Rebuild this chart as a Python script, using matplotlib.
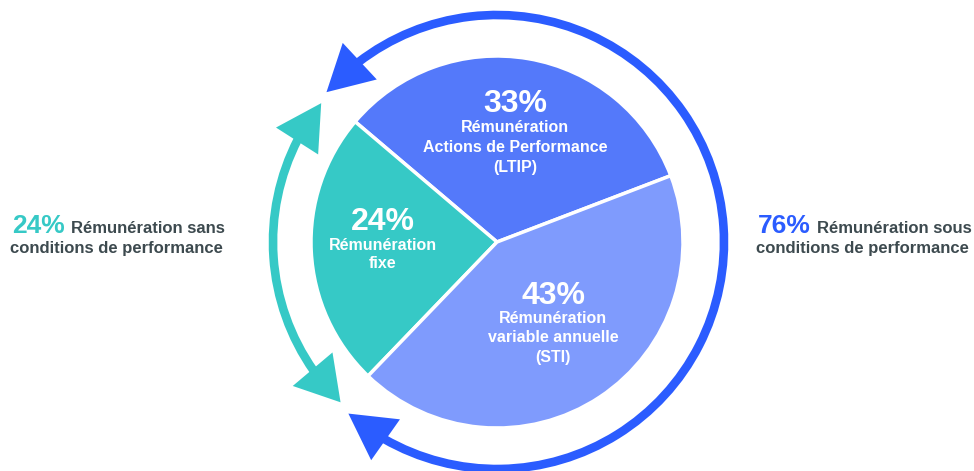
import numpy as np
import matplotlib.pyplot as plt
from matplotlib.patches import Arc, Polygon

plt.rcParams['font.family'] = ['Liberation Sans', 'DejaVu Sans']

# données
parts = [33, 24, 43]
pct_labels = ['33%', '24%', '43%']
part_labels = [['Rémunération', 'Actions de Performance', '(LTIP)'],
               ['Rémunération', 'fixe'],
               ['Rémunération', 'variable annuelle', '(STI)']]
colors = ['#5479FA', '#36C9C6', '#7F9BFD']
side_pct = ['24%', '76%']
side_text = ['Rémunération sans', 'Rémunération sous']
side_line2 = 'conditions de performance'

blue = '#2B5CFF'
teal = '#36C9C6'
dark = '#3D4A4F'

W, H = 974, 471
fig = plt.figure(figsize=(W / 100, H / 100), dpi=100)
ax = fig.add_axes([0, 0, 1, 1])

cx, cy, R = 497, H - 242, 186
wedges, _ = ax.pie(parts, colors=colors, startangle=20.9, counterclock=True,
                   center=(cx, cy), radius=R, frame=True,
                   wedgeprops=dict(edgecolor='white', linewidth=2.5))
ax.set_xlim(0, W)
ax.set_ylim(0, H)
ax.set_aspect('equal')
ax.axis('off')

# textes dans les parts (x, ligne de base du %, ligne de base du 1er libellé, interligne)
pos = [(515, 112, 132, 20), (383, 230, 250, 18.5), (553, 304, 323, 19.5)]
for (x, yp, yl, step), p, lines in zip(pos, pct_labels, part_labels):
    ax.text(x, H - yp, p, ha='center', va='baseline', color='white',
            fontsize=23, fontweight='bold')
    for i, l in enumerate(lines):
        ax.text(x, H - (yl + i * step), l, ha='center', va='baseline',
                color='white', fontsize=11.5, fontweight='bold')


def pt(ang, r):
    a = np.radians(ang)
    return np.array([cx + r * np.cos(a), cy + r * np.sin(a)])


def head(tip_ang, base_ang, r, width, color):
    tip = pt(tip_ang, r)
    base = pt(base_ang, r)
    d = tip - base
    n = np.array([-d[1], d[0]]) / np.hypot(*d)
    poly = Polygon([tip, base + n * width / 2, base - n * width / 2],
                   closed=True, color=color, lw=0, zorder=3)
    ax.add_patch(poly)


# limites des parts
th_a = wedges[0].theta2
th_b = wedges[1].theta2

# flèche bleue (76%)
Rb = 227
ax.add_patch(Arc((cx, cy), 2 * Rb, 2 * Rb, theta1=th_b + 14, theta2=th_a - 12,
                 color=blue, lw=6.2, zorder=2))
head(th_a - 1, th_a - 12.5, Rb, 50, blue)
head(th_b + 3, th_b + 14.5, Rb, 50, blue)

# flèche turquoise (24%)
Rt = 224
ax.add_patch(Arc((cx, cy), 2 * Rt, 2 * Rt, theta1=th_a + 13, theta2=th_b - 11,
                 color=teal, lw=6.2, zorder=2))
head(th_a + 2, th_a + 13.5, Rt, 50, teal)
head(th_b - 0.4, th_b - 11.5, Rt, 52, teal)

# textes latéraux
for xs, xr, xc, p, t, c in [(65, 71, 116, side_pct[0], side_text[0], teal),
                           (811, 817, 862, side_pct[1], side_text[1], blue)]:
    ax.text(xs, H - 233, p, ha='right', va='baseline', color=c,
            fontsize=19, fontweight='bold')
    ax.text(xr, H - 233, t, ha='left', va='baseline', color=dark,
            fontsize=12, fontweight='bold')
    ax.text(xc, H - 253, side_line2, ha='center', va='baseline', color=dark,
            fontsize=12, fontweight='bold')

fig.savefig('out.png', dpi=100)
